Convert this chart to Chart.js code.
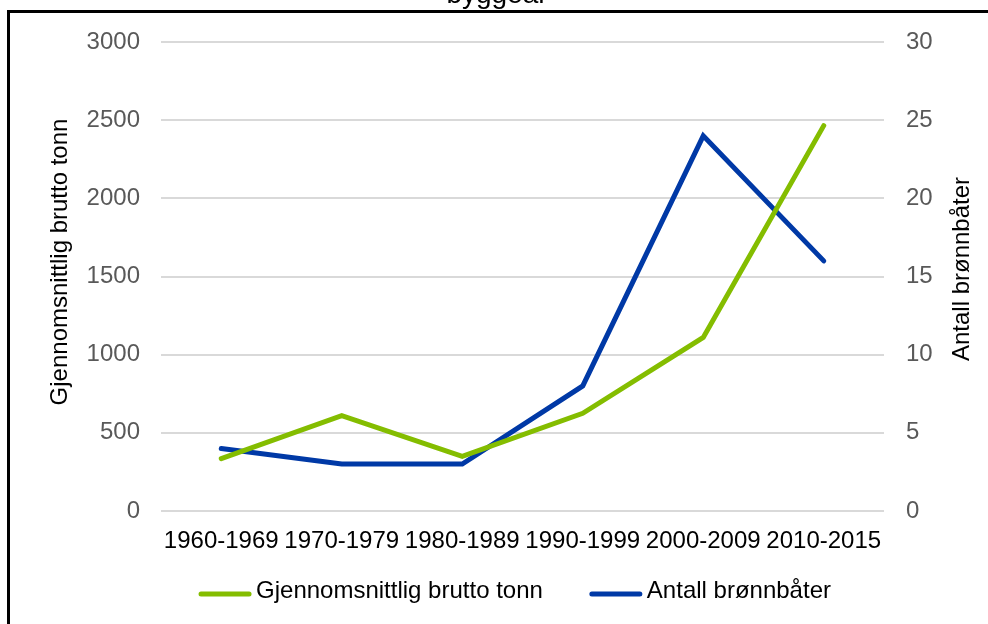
<!DOCTYPE html>
<html>
<head>
<meta charset="utf-8">
<title>Brønnbåter per byggeår</title>
<script src="https://cdn.jsdelivr.net/npm/chart.js@4.4.0/dist/chart.umd.min.js"></script>
<style>
  html, body { margin: 0; padding: 0; background: #fff; }
  #wrap { position: relative; width: 988px; height: 624px; }
</style>
</head>
<body>
<div id="wrap"><canvas id="chart" width="988" height="624"></canvas></div>
<script>
// Data
const periods = ['1960-1969', '1970-1979', '1980-1989', '1990-1999', '2000-2009', '2010-2015'];
const avgTonnage = [335, 610, 350, 625, 1110, 2465];
const boatCount = [4, 3, 3, 8, 24, 16];

const titleTail = 'byggeår';
const leftTitle = 'Gjennomsnittlig brutto tonn';
const rightTitle = 'Antall brønnbåter';

const GREEN = '#84BD00';
const BLUE = '#0039A6';
const FONT = "'Liberation Sans', Arial, sans-serif";
const LEGEND_BOX = 70;

Chart.defaults.font.family = FONT;
Chart.defaults.font.size = 24;

// frame, cut-off title and rotated axis titles
const decorations = {
  id: 'decorations',
  beforeDraw(chart) {
    const ctx = chart.ctx;
    ctx.save();
    ctx.fillStyle = '#fff';
    ctx.fillRect(0, 0, chart.width, chart.height);
    ctx.strokeStyle = '#000';
    ctx.lineWidth = 3;
    ctx.beginPath();
    ctx.moveTo(8.5, chart.height);
    ctx.lineTo(8.5, 11.5);
    ctx.lineTo(chart.width, 11.5);
    ctx.stroke();
    ctx.restore();
  },
  afterDraw(chart) {
    const ctx = chart.ctx;
    ctx.save();
    ctx.fillStyle = '#000';
    ctx.textAlign = 'center';
    ctx.textBaseline = 'alphabetic';

    ctx.font = '28px ' + FONT;
    ctx.fillText(titleTail, 497, 3);

    ctx.font = '24px ' + FONT;
    ctx.save();
    ctx.translate(67, 262);
    ctx.rotate(-Math.PI / 2);
    ctx.fillText(leftTitle, 0, 0);
    ctx.restore();

    ctx.save();
    ctx.translate(969, 269);
    ctx.rotate(-Math.PI / 2);
    ctx.fillText(rightTitle, 0, 0);
    ctx.restore();

    // legend line samples, placed from the legend's own hit boxes
    const legend = chart.legend;
    legend.legendItems.forEach((item, i) => {
      const box = legend.legendHitBoxes[i];
      const textX = box.left + LEGEND_BOX + 12;
      const y = box.top + box.height / 2 + 3;
      ctx.strokeStyle = item.sampleColor;
      ctx.lineWidth = 5;
      ctx.lineCap = 'round';
      ctx.beginPath();
      ctx.moveTo(textX - 55, y);
      ctx.lineTo(textX - 7, y);
      ctx.stroke();
    });
    ctx.restore();
  }
};

new Chart(document.getElementById('chart'), {
  type: 'line',
  data: {
    labels: periods,
    datasets: [
      {
        label: leftTitle,
        data: avgTonnage,
        yAxisID: 'y',
        borderColor: GREEN,
        backgroundColor: GREEN,
        borderWidth: 5,
        borderCapStyle: 'round',
        pointRadius: 0,
        tension: 0
      },
      {
        label: rightTitle,
        data: boatCount,
        yAxisID: 'y1',
        borderColor: BLUE,
        backgroundColor: BLUE,
        borderWidth: 5,
        borderCapStyle: 'round',
        pointRadius: 0,
        tension: 0
      }
    ]
  },
  options: {
    responsive: false,
    animation: false,
    layout: { padding: { top: 42, left: 17, right: 0, bottom: 11 } },
    scales: {
      x: {
        offset: true,
        grid: { display: false, drawTicks: false, offset: true },
        border: { display: false },
        ticks: { color: '#000', padding: 16, maxRotation: 0, minRotation: 0, autoSkip: false },
        afterFit: (s) => { s.height = 46; }
      },
      y: {
        position: 'left',
        min: 0,
        max: 3000,
        grid: { color: '#D9D9D9', lineWidth: 2, drawTicks: false },
        border: { display: false },
        ticks: { stepSize: 500, color: '#595959', padding: 21, callback: (v) => String(v) },
        afterFit: (s) => { s.width = 144; }
      },
      y1: {
        position: 'right',
        min: 0,
        max: 30,
        grid: { display: false, drawTicks: false },
        border: { display: false },
        ticks: { stepSize: 5, color: '#595959', padding: 22, callback: (v) => String(v) },
        afterFit: (s) => { s.width = 104; }
      }
    },
    plugins: {
      title: { display: false },
      tooltip: { enabled: false },
      legend: {
        position: 'bottom',
        labels: {
          color: '#000',
          boxWidth: LEGEND_BOX,
          boxHeight: 0,
          padding: 22,
          generateLabels: (chart) =>
            Chart.defaults.plugins.legend.labels.generateLabels(chart).map(item => ({
              ...item,
              sampleColor: item.strokeStyle,
              fillStyle: 'rgba(0,0,0,0)',
              strokeStyle: 'rgba(0,0,0,0)',
              lineWidth: 0
            }))
        }
      }
    }
  },
  plugins: [decorations]
});
</script>
</body>
</html>
